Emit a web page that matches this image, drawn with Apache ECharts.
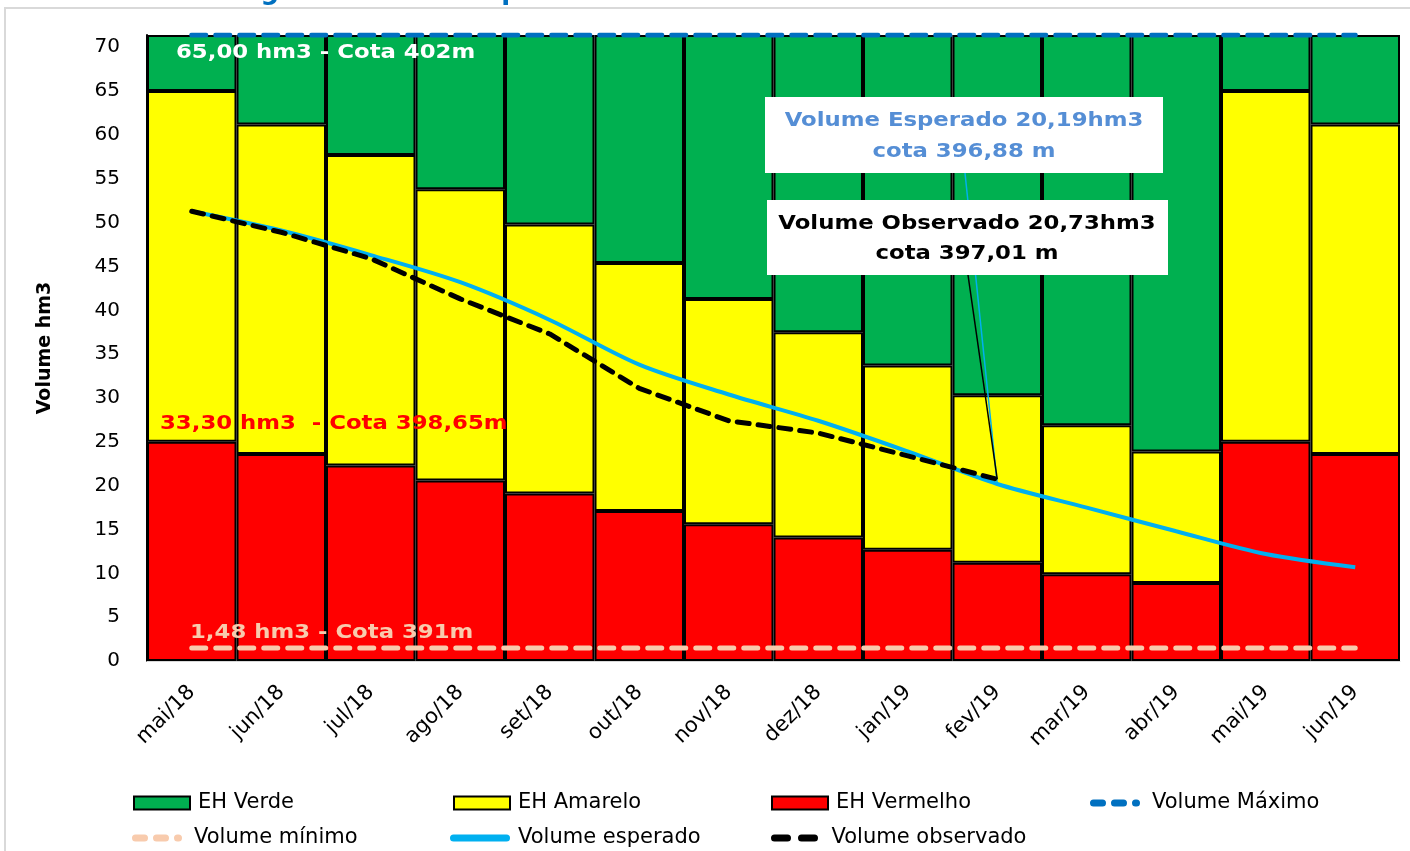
<!DOCTYPE html>
<html>
<head>
<meta charset="utf-8">
<title>Estado Hidrológico</title>
<script src="https://cdn.jsdelivr.net/npm/echarts@6/dist/echarts.min.js"></script>
<style>
  html, body { margin: 0; padding: 0; background: #fff; }
  #grafico { width: 1410px; height: 851px; }
</style>
</head>
<body>
<div id="grafico"></div>
<script>
// dados -------------------------------------------------------------------
var meses = ['mai/18', 'jun/18', 'jul/18', 'ago/18', 'set/18', 'out/18', 'nov/18',
             'dez/18', 'jan/19', 'fev/19', 'mar/19', 'abr/19', 'mai/19', 'jun/19'];
var ehVermelho = [25.0, 23.6, 22.3, 20.6, 19.1, 17.1, 15.6, 14.1, 12.7, 11.2, 9.9, 8.9, 25.0, 23.6];
var ehAmarelo = [40.0, 37.6, 35.4, 33.2, 30.7, 28.3, 25.7, 23.4, 21.0, 19.1, 17.0, 15.0, 40.0, 37.6];
var ehVerde = [6.4, 10.2, 13.7, 17.6, 21.6, 26.0, 30.1, 33.9, 37.7, 41.1, 44.5, 47.5, 6.4, 10.2];
var volMaximo = [71.4, 71.4, 71.4, 71.4, 71.4, 71.4, 71.4, 71.4, 71.4, 71.4, 71.4, 71.4, 71.4, 71.4];
var volMinimo = [1.48, 1.48, 1.48, 1.48, 1.48, 1.48, 1.48, 1.48, 1.48, 1.48, 1.48, 1.48, 1.48, 1.48];
var volEsperado = [51.3, 49.1, 46.3, 43.2, 38.9, 33.8, 30.4, 27.4, 23.9, 20.19, 17.5, 14.8, 12.2, 10.7];
var volObservado = [51.3, 48.9, 45.9, 41.3, 37.3, 31.1, 27.4, 26.0, 23.4, 20.73, null, null, null, null];
var yMax = 71.4;

var fonte = 'DejaVu Sans';

var myChart = echarts.init(document.getElementById('grafico'));

// ícones da legenda (traços arredondados)
function pilula(x, w, h) {
    var r = h / 2;
    return 'M' + (x + r) + ',0h' + (w - h) + 'a' + r + ',' + r + ' 0 0 1 0,' + h +
           'h' + (h - w) + 'a' + r + ',' + r + ' 0 0 1 0,' + (-h) + 'z';
}
var iconeTracejado = 'path://' + pilula(0, 16, 7) + pilula(21, 16, 7) + pilula(42, 8, 7);
var iconeContinuo = 'path://' + pilula(0, 60, 7);
var iconeObservado = 'path://' + pilula(0, 20, 7) + pilula(27, 20, 7);

// uma legenda por item, para posicionar como no original
function itemLegenda(nome, left, top, icone, w, h) {
    return {
        left: left,
        top: top,
        padding: 0,
        data: [{ name: nome, icon: icone }],
        itemWidth: w,
        itemHeight: h,
        itemGap: 8,
        selectedMode: false,
        textStyle: { fontFamily: fonte, fontSize: 21, lineHeight: 22, color: '#000', padding: [0, 0, 0, 3] }
    };
}

// textos das anotações (levemente alargados como no original)
function texto(str, x, y, cor, alinhar) {
    return {
        type: 'text', z: 101, x: x, y: y, scaleX: 1.14,
        style: { text: str, fill: cor, font: 'bold 20px "DejaVu Sans"',
                 textAlign: alinhar || 'left', textVerticalAlign: 'middle' }
    };
}

var option = {
    animation: false,
    backgroundColor: '#fff',
    title: {
        text: 'Estado Hidrológico - Volume Esperado x Volume observado',
        left: 40,
        top: -26,
        textStyle: { fontFamily: fonte, fontSize: 26, fontWeight: 'bold', color: '#0070C0' }
    },
    legend: [
        itemLegenda('EH Verde', 133, 792, 'rect', 56, 13),
        itemLegenda('EH Amarelo', 453, 792, 'rect', 56, 13),
        itemLegenda('EH Vermelho', 771, 792, 'rect', 56, 13),
        itemLegenda('Volume Máximo', 1090, 792, iconeTracejado, 58, 7),
        itemLegenda('Volume mínimo', 132, 827, iconeTracejado, 58, 7),
        itemLegenda('Volume esperado', 450, 827, iconeContinuo, 60, 7),
        itemLegenda('Volume observado', 771, 827, iconeObservado, 58, 7)
    ],
    grid: { left: 147, right: 10, top: 35, bottom: 190 },
    xAxis: {
        type: 'category',
        data: meses,
        boundaryGap: true,
        axisLine: { lineStyle: { color: '#d9d9d9', width: 1 } },
        axisTick: { show: false },
        axisLabel: { rotate: 45, margin: 28, fontFamily: fonte, fontSize: 21, color: '#000' }
    },
    yAxis: {
        type: 'value',
        min: 0,
        max: yMax,
        interval: 5,
        name: 'Volume hm3',
        nameLocation: 'middle',
        nameGap: 92,
        nameTextStyle: { fontFamily: fonte, fontSize: 19, fontWeight: 'bold', color: '#000' },
        axisLine: { show: true, lineStyle: { color: '#000', width: 2 } },
        axisTick: { show: false },
        splitLine: { show: false },
        axisLabel: {
            margin: 27,
            fontFamily: fonte,
            fontSize: 20,
            color: '#000',
            formatter: function (v) { return v % 5 === 0 ? String(v) : ''; }
        }
    },
    series: [
        {
            name: 'EH Vermelho', type: 'bar', stack: 'eh', data: ehVermelho,
            barWidth: '100%', barCategoryGap: 0,
            itemStyle: { color: '#FF0000', borderColor: '#000', borderWidth: 2 }
        },
        {
            name: 'EH Amarelo', type: 'bar', stack: 'eh', data: ehAmarelo,
            barWidth: '100%',
            itemStyle: { color: '#FFFF00', borderColor: '#000', borderWidth: 2 }
        },
        {
            name: 'EH Verde', type: 'bar', stack: 'eh', data: ehVerde,
            barWidth: '100%',
            itemStyle: { color: '#00B050', borderColor: '#000', borderWidth: 2 }
        },
        {
            name: 'Volume Máximo', type: 'line', data: volMaximo, symbol: 'none', z: 5,
            lineStyle: { color: '#0070C0', width: 5, type: [14, 10], cap: 'round' },
            itemStyle: { color: '#0070C0' }
        },
        {
            name: 'Volume mínimo', type: 'line', data: volMinimo, symbol: 'none', z: 5,
            lineStyle: { color: '#F8CBAD', width: 5, type: [14, 10], cap: 'round' },
            itemStyle: { color: '#F8CBAD' }
        },
        {
            name: 'Volume esperado', type: 'line', data: volEsperado, symbol: 'none', smooth: 0.3, z: 6,
            lineStyle: { color: '#00B0F0', width: 4 },
            itemStyle: { color: '#00B0F0' },
            markLine: {
                silent: true, symbol: 'none', label: { show: false },
                lineStyle: { color: '#00B0F0', width: 1.5, type: 'solid' },
                data: [[{ x: 965, y: 173 }, { coord: ['fev/19', 20.19] }]]
            }
        },
        {
            name: 'Volume observado', type: 'line', data: volObservado, symbol: 'none', z: 7,
            lineStyle: { color: '#000', width: 5, type: [12, 9], cap: 'round' },
            itemStyle: { color: '#000' },
            markLine: {
                silent: true, symbol: 'none', label: { show: false },
                lineStyle: { color: '#000', width: 1.5, type: 'solid' },
                data: [[{ x: 968, y: 275 }, { coord: ['fev/19', 20.73] }]]
            }
        }
    ],
    graphic: [
        // moldura cinza
        { type: 'rect', z: 0, shape: { x: 5, y: 8, width: 1420, height: 860 },
          style: { fill: null, stroke: '#d9d9d9', lineWidth: 2 } },
        // rótulos das faixas
        texto('65,00 hm3 - Cota 402m', 176, 53, '#fff'),
        texto('33,30 hm3  - Cota 398,65m', 160, 424, '#FF0000'),
        texto('1,48 hm3 - Cota 391m', 190, 633, '#F8CBAD'),
        // caixas de anotação
        { type: 'rect', z: 100, shape: { x: 765, y: 97, width: 398, height: 76 }, style: { fill: '#fff' } },
        texto('Volume Esperado 20,19hm3', 964, 121, '#558ED5', 'center'),
        texto('cota 396,88 m', 964, 152, '#558ED5', 'center'),
        { type: 'rect', z: 100, shape: { x: 767, y: 200, width: 401, height: 75 }, style: { fill: '#fff' } },
        texto('Volume Observado 20,73hm3', 967, 224, '#000', 'center'),
        texto('cota 397,01 m', 967, 254, '#000', 'center')
    ]
};

myChart.setOption(option);
</script>
</body>
</html>
